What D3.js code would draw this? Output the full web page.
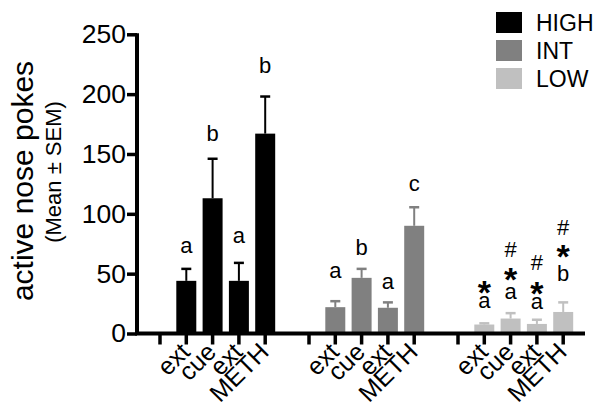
<!DOCTYPE html>
<html><head><meta charset="utf-8">
<script src="https://cdn.jsdelivr.net/npm/d3@7"></script>
<style>body{margin:0;background:#fff}svg{display:block}text{font-family:"Liberation Sans",Arial,sans-serif}</style>
</head><body><svg id="c" width="603" height="418"></svg>
<script>
// ---- data ----
const groups = ["HIGH", "INT", "LOW"];
const groupColors = ["#000000", "#808080", "#c0c0c0"];
const slots = ["", "ext", "cue", "ext ", "METH"];      // first slot is an empty tick
const categories = ["ext", "cue", "ext ", "METH"];
const meanHIGH = [44, 113, 44, 167];
const semHIGH  = [10, 33, 15, 31];
const meanINT  = [22, 46.5, 21.5, 90];
const semINT   = [5, 7.5, 4.5, 15.5];
const meanLOW  = [7.5, 12.5, 8, 18];
const semLOW   = [1, 4.5, 3.5, 8];
const yTicks = [0, 50, 100, 150, 200, 250];
// significance labels (bottom to top) and their centre heights, in data units
const annHIGH = [["a"], ["b"], ["a"], ["b"]];
const annHIGHy = [[72], [167.6], [80.3], [224]];
const annINT = [["a"], ["b"], ["a"], ["c"]];
const annINTy = [[51], [72], [42], [124.4]];
const annLOW = [["a", "*"], ["a", "*", "#"], ["a", "*", "#"], ["b", "*", "#"]];
const annLOWy = [[26.2, 41.2], [33.7, 51.4, 70.3], [25.4, 40.3, 59.5], [50.3, 71.1, 88.6]];

const means = [meanHIGH, meanINT, meanLOW];
const sems = [semHIGH, semINT, semLOW];
const anns = [annHIGH, annINT, annLOW];
const annYs = [annHIGHy, annINTy, annLOWy];

// ---- layout ----
const svg = d3.select("#c");
const axisX = 137, axisEnd = 585;
const y = d3.scaleLinear().domain([0, 250]).range([333.5, 34.3]);
const x0 = d3.scaleBand().domain(groups).range([146.85, 576.35]).paddingInner(17.5 / 149).paddingOuter(0);
const x1 = d3.scaleBand().domain(slots).range([0, x0.bandwidth()]).paddingInner(0.24).paddingOuter(0.12);

// bars + error bars
groups.forEach((g, gi) => {
  const col = groupColors[gi];
  const gg = svg.append("g");
  categories.forEach((c, ci) => {
    const cx = x0(g) + x1(c) + x1.bandwidth() / 2;
    const m = means[gi][ci], s = sems[gi][ci];
    gg.append("line").attr("x1", cx).attr("x2", cx).attr("y1", y(m)).attr("y2", y(m + s))
      .attr("stroke", col).attr("stroke-width", 2);
    gg.append("line").attr("x1", cx - 5).attr("x2", cx + 5).attr("y1", y(m + s)).attr("y2", y(m + s))
      .attr("stroke", col).attr("stroke-width", 2.5);
    gg.append("rect").attr("x", x0(g) + x1(c)).attr("width", x1.bandwidth())
      .attr("y", y(m)).attr("height", y(0) - y(m)).attr("fill", col);
    // annotations
    anns[gi][ci].forEach((t, ti) => {
      const yc = y(annYs[gi][ci][ti]);
      let fs = 22, k = 0.27, fw = "normal";
      if (t === "b") k = 0.36;
      if (t === "#") { k = 0.35; fs = 22; }
      if (t === "*") { fs = 34; k = 0.57; fw = "bold"; }
      gg.append("text").attr("x", cx).attr("y", yc + k * fs).attr("text-anchor", "middle")
        .attr("font-size", fs).attr("font-weight", fw).attr("fill", "#000").text(t);
    });
  });
});

// x axis line and ticks
svg.append("line").attr("x1", axisX - 2).attr("x2", axisEnd).attr("y1", y(0)).attr("y2", y(0))
  .attr("stroke", "#000").attr("stroke-width", 4);
groups.forEach(g => {
  slots.forEach(s => {
    const cx = x0(g) + x1(s) + x1.bandwidth() / 2;
    svg.append("line").attr("x1", cx).attr("x2", cx).attr("y1", y(0)).attr("y2", y(0) + 11)
      .attr("stroke", "#000").attr("stroke-width", 3.5);
    if (s) {
      svg.append("text").attr("transform", `translate(${cx + 5},${y(0) + 20}) rotate(-45)`)
        .attr("text-anchor", "end").attr("font-size", 25).attr("fill", "#000").text(s.trim());
    }
  });
});

// y axis
const ya = svg.append("g").attr("transform", `translate(${axisX},0)`)
  .call(d3.axisLeft(y).tickValues(yTicks).tickSize(10).tickPadding(1).tickFormat(d3.format("d")));
ya.select(".domain").attr("stroke-width", 4).attr("d", `M0,${y(250) - 1}V${y(0)}`);
ya.selectAll(".tick line").attr("stroke-width", 3.5);
ya.selectAll(".tick text").attr("font-size", 26.5).attr("font-family", '"Liberation Sans",Arial,sans-serif').attr("fill", "#000");

// y titles
svg.append("text").attr("transform", "translate(33,181) rotate(-90)").attr("text-anchor", "middle")
  .attr("font-size", 30).attr("fill", "#000").text("active nose pokes");
svg.append("text").attr("transform", "translate(61,172) rotate(-90)").attr("text-anchor", "middle")
  .attr("font-size", 22).attr("fill", "#000").text("(Mean ± SEM)");

// legend
const leg = svg.append("g").attr("transform", "translate(496,12)");
groups.forEach((g, i) => {
  const gy = i * 28;
  leg.append("rect").attr("x", 0).attr("y", gy).attr("width", 26).attr("height", 21).attr("fill", groupColors[i]);
  leg.append("text").attr("x", 40).attr("y", gy + 19).attr("font-size", 23).attr("fill", "#000").text(g);
});
</script></body></html>
